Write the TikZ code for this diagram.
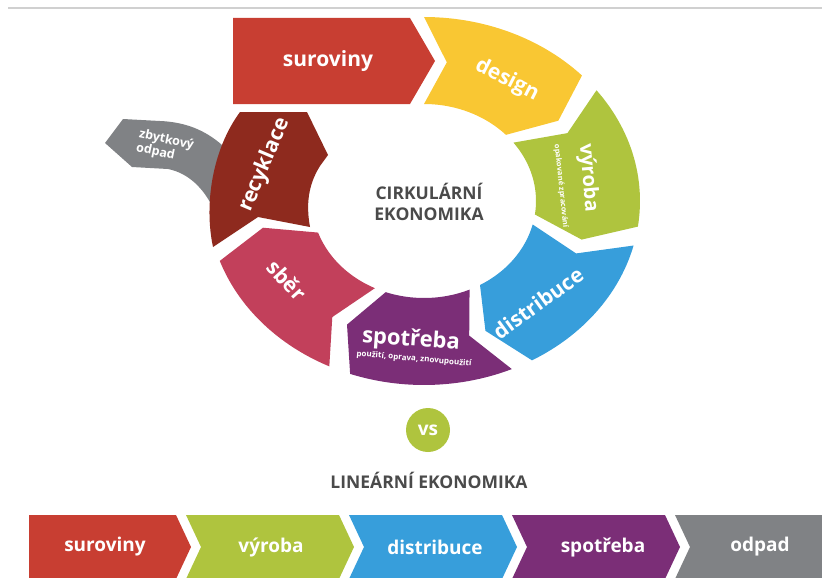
\documentclass[tikz,border=0pt]{standalone}
\usepackage{fontspec}
\setmainfont{Open Sans}
\usetikzlibrary{positioning, calc}
\definecolor{cervena}{HTML}{C83E32}
\definecolor{zluta}{HTML}{F9C733}
\definecolor{zelena}{HTML}{AFC43E}
\definecolor{modra}{HTML}{379EDB}
\definecolor{fialova}{HTML}{7B2E77}
\definecolor{ruzova}{HTML}{C2405B}
\definecolor{vinova}{HTML}{8E2A1E}
\definecolor{seda}{HTML}{808285}
\definecolor{tmavoseda}{HTML}{4A4A4A}
\definecolor{linka}{HTML}{D0D0D0}
\tikzset{
  popisek/.style={text=white, inner sep=0pt, font=\bfseries\fontsize{21}{24}\selectfont},
  podpopis/.style={text=white, inner sep=0pt, font=\bfseries\fontsize{7.5}{9}\selectfont},
  nadpis/.style={text=tmavoseda, inner sep=0pt, align=center, font=\bfseries\fontsize{17.5}{21}\selectfont},
  linpopis/.style={text=white, inner sep=0pt, font=\bfseries\fontsize{19}{22}\selectfont},
  odpadpopis/.style={text=white, inner sep=0pt, align=left, font=\bfseries\fontsize{12.5}{14}\selectfont}
}
% segment kruhu: barva, od, do
\newcommand{\kruhseg}[3]{%
  \fill[#1] plot[domain=#2:#3, samples=30] (\x:216 and 184) -- ({#3+8}:164 and 140)
    -- plot[domain=#3:#2, samples=30] (\x:112 and 97) -- ({#2+8}:164 and 140) -- cycle;}

\begin{document}
\begin{tikzpicture}[x=1pt, y=-1pt]
  \useasboundingbox (0,0) rectangle (822,578);
  \draw [linka, line width=1.2pt] (8,8) -- (822,8);

  % zbytkovy odpad (pod recyklaci)
  \fill [seda] (123,119) -- (105,143) -- (132,167) -- (168,169) .. controls (188,173) and (204,188) .. (214,210)
    -- (250,215) -- (240,140) -- (222,145) .. controls (205,130) and (185,122) .. (160,121) -- cycle;
  % recyklace
  \fill [vinova] (240,112) -- (307,112) -- (328,155) -- (320,166) .. controls (308,185) and (306,205) .. (310,227)
    -- (258,217) -- (213,247) .. controls (204,205) and (212,150) .. (240,112) -- cycle;
  % suroviny
  \fill [cervena] (233,18) -- (410,18) -- (435,61) -- (410,104) -- (233,104) -- cycle;

  \begin{scope}[shift={(424,201)}]
    \kruhseg{zluta}{-90}{-43}
    \kruhseg{zelena}{-37}{8}
    \kruhseg{modra}{14}{60}
    \kruhseg{fialova}{66}{110}
    \kruhseg{ruzova}{116}{161}
  \end{scope}

  \node (surov) [popisek] at (328,61) {suroviny};
  \node (design) [popisek, rotate=-27] at (507,80) {design};
  \node (vyroba) [popisek, rotate=-85, font=\bfseries\fontsize{20}{22}\selectfont] at (588,178) {výroba};
  \node (vyrobapod) [podpopis, rotate=-84] at (561,186) {opakované zpracování};
  \node (distr) [popisek, rotate=36] at (538,303) {distribuce};
  \node (spotr) [popisek, rotate=-4, font=\bfseries\fontsize{22}{24}\selectfont] at (411,340) {spotřeba};
  \node (spotrpod) [podpopis, rotate=-5, font=\bfseries\fontsize{8}{9}\selectfont] at (414,359) {použití, oprava, znovupoužití};
  \node (sber) [popisek, rotate=-48] at (287,280) {sběr};
  \node (recykl) [popisek, rotate=67] at (265,165) {recyklace};
  \node (zbytek) [odpadpopis, rotate=-12] at (165,147) {zbytkový\\odpad};
  \node (cirk) [nadpis] at (429,202) {CIRKULÁRNÍ\\EKONOMIKA};

  \node (vs) [circle, fill=zelena, minimum size=44pt, inner sep=0pt, text=white,
    font=\bfseries\fontsize{19}{21}\selectfont] at (428,430) {vs};
  \node (linek) [nadpis] at (429,480) {LINEÁRNÍ EKONOMIKA};

  % linearni ekonomika
  \fill [cervena] (29,515) -- (176,515) -- (191,547) -- (176,579) -- (29,579) -- cycle;
  \fill [zelena] (186,515) -- (339,515) -- (354,547) -- (339,579) -- (186,579) -- (201,547) -- cycle;
  \fill [modra] (349,515) -- (502,515) -- (517,547) -- (502,579) -- (349,579) -- (364,547) -- cycle;
  \fill [fialova] (512,515) -- (665,515) -- (680,547) -- (665,579) -- (512,579) -- (527,547) -- cycle;
  \fill [seda] (675,515) -- (822,515) -- (822,579) -- (675,579) -- (690,547) -- cycle;
  \node (lsurov) [linpopis] at (105,547) {suroviny};
  \node (lvyroba) [linpopis] at (271,547) {výroba};
  \node (ldistr) [linpopis] at (435,547) {distribuce};
  \node (lspotr) [linpopis] at (603,547) {spotřeba};
  \node (lodpad) [linpopis] at (760,547) {odpad};
\end{tikzpicture}
\end{document}
